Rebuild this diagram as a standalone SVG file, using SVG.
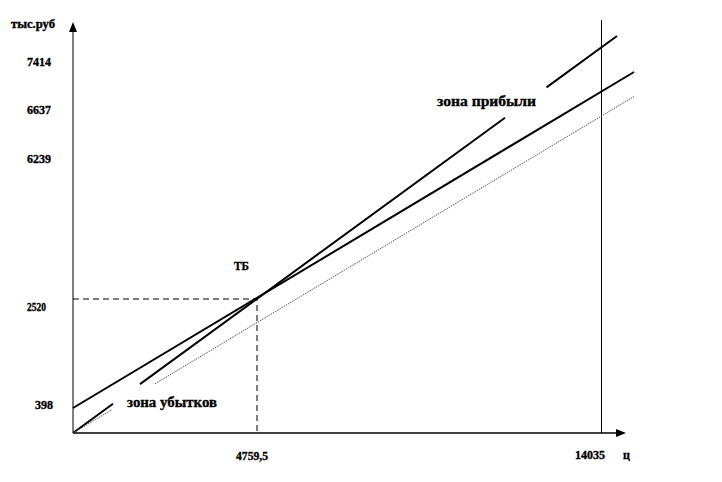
<svg xmlns="http://www.w3.org/2000/svg" width="722" height="482" viewBox="0 0 722 482">
<style>
text{font-family:"Liberation Serif","Times New Roman",serif;font-weight:bold;fill:#000;stroke:#000;stroke-width:0.35}
.num{font-size:12px}
.zone{font-size:15px}
.thick{stroke:#000;stroke-width:2;fill:none}
.thin{stroke:#555;stroke-width:1;stroke-dasharray:1.5 1;fill:none}
.dash{stroke:#000;stroke-width:1;stroke-dasharray:6 4;fill:none}
</style>
<rect width="722" height="482" fill="#fff"/>
<g id="axes">
<line x1="73" y1="433" x2="73" y2="30" stroke="#555" stroke-width="1.5"/>
<polygon points="73,22 69,32 77,32" fill="#000"/>
<line x1="73" y1="433" x2="618" y2="433" stroke="#000" stroke-width="1.5"/>
<polygon points="626,433 616,429 616,437" fill="#000"/>
<line x1="601.5" y1="20" x2="601.5" y2="433" stroke="#000" stroke-width="1"/>
</g>
<g id="connectors">
<path class="dash" d="M73,299 H257 V433"/>
<path class="thick" d="M73,433 L113,403.8 M140,384.1 L505,117.7 M546.5,87.4 L617,36"/>
<path class="thick" d="M73,408 L634,72"/>
<path class="thin" d="M73,433 L112,409.6 M155,383.8 L634,96.5"/>
</g>
<g id="labels">
<text x="11" y="28" class="num" textLength="44" lengthAdjust="spacingAndGlyphs">тыс.руб</text>
<text x="27" y="66" class="num" textLength="24" lengthAdjust="spacingAndGlyphs">7414</text>
<text x="27" y="114" class="num" textLength="24" lengthAdjust="spacingAndGlyphs">6637</text>
<text x="27" y="163" class="num" textLength="24" lengthAdjust="spacingAndGlyphs">6239</text>
<text x="27" y="311" class="num" textLength="19" lengthAdjust="spacingAndGlyphs">2520</text>
<text x="35" y="409" class="num" textLength="18" lengthAdjust="spacingAndGlyphs">398</text>
<text x="236" y="460" class="num" textLength="32" lengthAdjust="spacingAndGlyphs">4759,5</text>
<text x="575" y="459" class="num" textLength="30" lengthAdjust="spacingAndGlyphs">14035</text>
<text x="623" y="459" class="num">ц</text>
<text x="234" y="270" class="num" textLength="15" lengthAdjust="spacingAndGlyphs">ТБ</text>
<text x="437" y="106" class="zone" textLength="99" lengthAdjust="spacingAndGlyphs">зона прибыли</text>
<text x="127" y="407" class="zone" textLength="90" lengthAdjust="spacingAndGlyphs">зона убытков</text>
</g>
</svg>
